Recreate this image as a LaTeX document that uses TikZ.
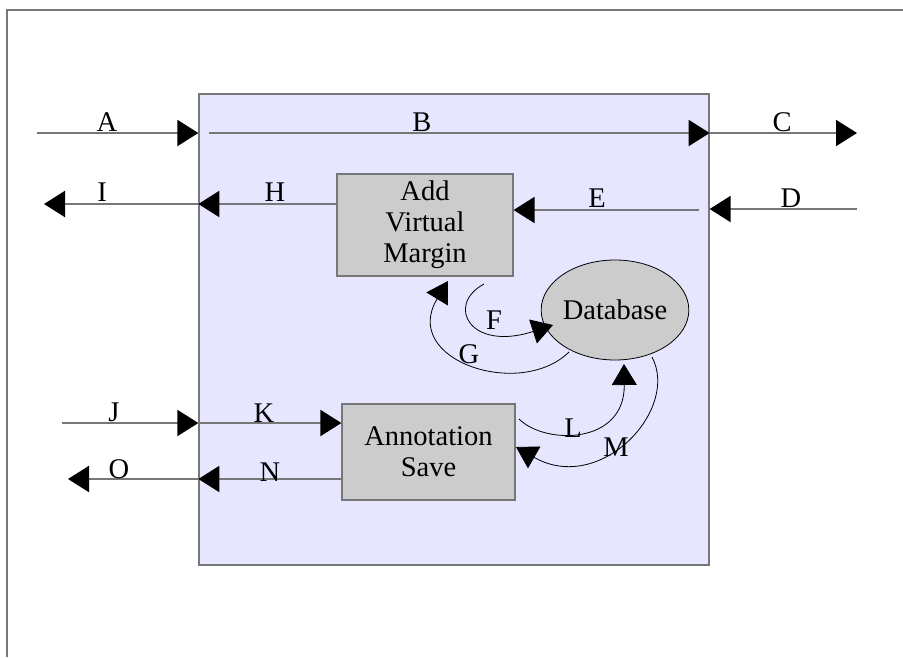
\documentclass[tikz,border=0pt]{standalone}
\usepackage{fontspec}
\setmainfont{Liberation Serif}
\usetikzlibrary{arrows.meta,shapes.geometric}

\definecolor{linegray}{HTML}{777777}
\definecolor{sysblue}{HTML}{E6E6FF}
\definecolor{procgray}{HTML}{CCCCCC}

\tikzset{
  flow/.style={draw=linegray, line width=2pt, -{Triangle[length=21pt,width=26pt,color=black]}},
  loopflow/.style={draw=black, line width=0.8pt, -{Triangle[length=21pt,width=25pt]}},
  procbox/.style={draw=linegray, fill=procgray, line width=1.2pt, align=center, inner sep=0pt},
  lbl/.style={anchor=base, inner sep=0pt},
}

\begin{document}
\begin{tikzpicture}[x=1pt, y=-1pt, font=\fontsize{28.5}{31}\selectfont]
  \useasboundingbox (0,0) rectangle (903,657);

  % page frame
  \draw[linegray, line width=1.5pt] (7,657) -- (7,10) -- (903,10);

  % system and its parts
  \node[draw=linegray, fill=sysblue, line width=1.3pt, minimum width=510pt,
        minimum height=471pt, inner sep=0pt] (sys) at (454,329.5) {};
  \node[procbox, minimum width=176pt, minimum height=102pt] (margin) at (425,225)
    {Add\\Virtual\\Margin};
  \node[procbox, minimum width=173pt, minimum height=96pt] (annot) at (428.5,452)
    {Annotation\\Save};
  \node[draw=black, fill=procgray, line width=0.8pt, ellipse, inner sep=0pt,
        minimum width=140pt, minimum height=100pt] (db) at (615,310) {Database};

  % outside ends
  \coordinate (aIn) at (37,133);
  \coordinate (bIn) at (209,133);
  \coordinate (cOut) at (857,133);
  \coordinate (dIn) at (857,209);
  \coordinate (eIn) at (699,210);
  \coordinate (iOut) at (44,204);
  \coordinate (jIn) at (62,423);
  \coordinate (oOut) at (68,479);

  % straight flows
  \draw[flow] (aIn) -- (sys.west |- aIn);
  \draw[flow] (bIn) -- (sys.east |- bIn);
  \draw[flow] (sys.east |- bIn) -- (cOut);
  \draw[flow] (dIn) -- (sys.east |- dIn);
  \draw[flow] (eIn) -- (margin.east |- eIn);
  \draw[flow] (margin.west |- iOut) -- (sys.west |- iOut);
  \draw[flow] (sys.west |- iOut) -- (iOut);
  \draw[flow] (jIn) -- (sys.west |- jIn);
  \draw[flow] (sys.west |- jIn) -- (annot.west |- jIn);
  \draw[flow] (annot.west |- oOut) -- (sys.west |- oOut);
  \draw[flow] (sys.west |- oOut) -- (oOut);

  % curved flows to and from the database
  \coordinate (fStart) at (484,284);
  \coordinate (fEnd) at (553,325);
  \coordinate (gStart) at (569,352);
  \coordinate (gEnd) at (448,281);
  \coordinate (lStart) at (519,419);
  \coordinate (lEnd) at (624,364);
  \coordinate (mStart) at (652,357);
  \coordinate (mEnd) at (516,447);
  \draw[loopflow] (fStart) .. controls (445,305) and (470,352) .. (fEnd);
  \draw[loopflow] (gStart) .. controls (520,400) and (400,360) .. (gEnd);
  \draw[loopflow] (lStart) .. controls (545,445) and (625,445) .. (lEnd);
  \draw[loopflow] (mStart) .. controls (680,410) and (600,495) .. (mEnd);

  % labels
  \node[lbl] (lA) at (107,131) {A};
  \node[lbl] (lB) at (422,131) {B};
  \node[lbl] (lC) at (782,131) {C};
  \node[lbl] (lD) at (791,207) {D};
  \node[lbl] (lE) at (597,207) {E};
  \node[lbl] (lF) at (494,329) {F};
  \node[lbl] (lG) at (469,363) {G};
  \node[lbl] (lH) at (275,201) {H};
  \node[lbl] (lI) at (102,201) {I};
  \node[lbl] (lJ) at (114,421) {J};
  \node[lbl] (lK) at (264,422) {K};
  \node[lbl] (lL) at (573,437) {L};
  \node[lbl] (lM) at (616,456) {M};
  \node[lbl] (lN) at (270,481) {N};
  \node[lbl] (lO) at (119,478) {O};
\end{tikzpicture}
\end{document}
